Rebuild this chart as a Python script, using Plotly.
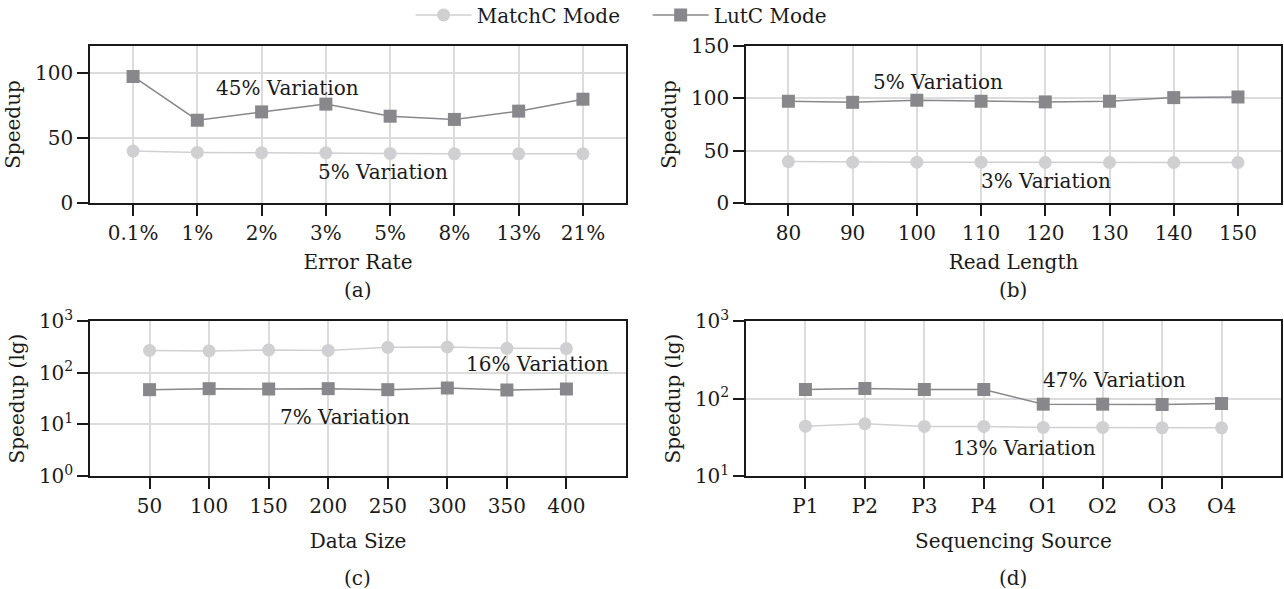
import plotly.graph_objects as go

# ---------------- data ----------------
error_rates = ["0.1%", "1%", "2%", "3%", "5%", "8%", "13%", "21%"]
a_matchc = [40, 39, 38.7, 38.7, 38.2, 37.9, 37.9, 37.9]
a_lutc = [97.5, 63.8, 70.2, 76.2, 66.9, 64.4, 70.8, 80]

read_lengths = [80, 90, 100, 110, 120, 130, 140, 150]
b_matchc = [39.6, 39, 39, 39, 38.7, 38.7, 38.7, 38.7]
b_lutc = [97.2, 96.2, 98.2, 97.2, 96.6, 97.2, 100.7, 101.3]

data_sizes = [50, 100, 150, 200, 250, 300, 350, 400]
c_matchc = [270, 263, 275, 270, 309, 314, 296, 292]
c_lutc = [46.9, 49, 48.3, 49, 46.9, 50.5, 46.2, 48.3]

sources = ["P1", "P2", "P3", "P4", "O1", "O2", "O3", "O4"]
d_matchc = [44, 47.2, 43.6, 43.6, 42.3, 42.3, 41.9, 41.9]
d_lutc = [130.6, 134.5, 130.6, 130.6, 84.5, 84.5, 83.7, 86.2]

log_ticks = [1, 10, 100, 1000]
log_ticktext = ["10<sup>0</sup>", "10<sup>1</sup>", "10<sup>2</sup>", "10<sup>3</sup>"]

# ---------------- style ----------------
W, H = 1284, 589
FONT = "DejaVu Serif"
TXT = "#1a1a1a"
LIGHT = "#d0d0d2"
DARK = "#88888c"
GRID = "#dcdcdc"
FS = 20


def px_x(p):
    return p / W


def px_y(p):
    return 1 - p / H


fig = go.Figure()

panels = [
    ("x", "y", error_rates, a_matchc, a_lutc),
    ("x2", "y2", read_lengths, b_matchc, b_lutc),
    ("x3", "y3", data_sizes, c_matchc, c_lutc),
    ("x4", "y4", sources, d_matchc, d_lutc),
]
for i, (xa, ya, xs, m, l) in enumerate(panels):
    fig.add_trace(go.Scatter(
        x=xs, y=m, xaxis=xa, yaxis=ya, mode="lines+markers", name="MatchC Mode",
        line=dict(color=LIGHT, width=1.5),
        marker=dict(symbol="circle", size=13, color=LIGHT),
        showlegend=(i == 0), legendgroup="m"))
    fig.add_trace(go.Scatter(
        x=xs, y=l, xaxis=xa, yaxis=ya, mode="lines+markers", name="LutC Mode",
        line=dict(color=DARK, width=1.5),
        marker=dict(symbol="square", size=13, color=DARK),
        showlegend=(i == 0), legendgroup="l"))

left_dom = [px_x(90), px_x(626)]
right_dom = [px_x(746), px_x(1281)]
top_dom = [px_y(203), px_y(46)]
bot_dom = [px_y(476), px_y(321)]

axis_common = dict(
    showline=True, linecolor=TXT, linewidth=1.5, mirror=True,
    ticks="outside", ticklen=11, tickwidth=1.5, tickcolor=TXT,
    showgrid=True, gridcolor=GRID, gridwidth=1.5, zeroline=False,
    automargin=False,
    tickfont=dict(family=FONT, size=FS, color=TXT),
    title_font=dict(family=FONT, size=FS, color=TXT),
)

fig.update_layout(
    width=W, height=H,
    margin=dict(l=0, r=0, t=0, b=0, autoexpand=False),
    paper_bgcolor="white", plot_bgcolor="white",
    font=dict(family=FONT, size=FS, color=TXT),
    showlegend=True,
    legend=dict(orientation="h", xref="container", yref="container",
                x=0.5044, xanchor="center",
                y=px_y(15), yanchor="middle",
                font=dict(family=FONT, size=FS, color=TXT),
                itemwidth=56,
                entrywidth=166, entrywidthmode="pixels",
                bgcolor="rgba(0,0,0,0)"),
    xaxis=dict(domain=left_dom, anchor="y", type="category",
               range=[-0.67, 7.67], title=dict(text="Error Rate", standoff=11),
               **axis_common),
    yaxis=dict(domain=top_dom, anchor="x", range=[0, 121],
               tickvals=[0, 50, 100], title=dict(text="Speedup", standoff=9),
               **axis_common),
    xaxis2=dict(domain=right_dom, anchor="y2", range=[73.4, 156.7],
                tickvals=read_lengths, title=dict(text="Read Length", standoff=11),
                **axis_common),
    yaxis2=dict(domain=top_dom, anchor="x2", range=[0, 150],
                tickvals=[0, 50, 100, 150], title=dict(text="Speedup", standoff=9),
                **axis_common),
    xaxis3=dict(domain=left_dom, anchor="y3", range=[0, 450],
                tickvals=data_sizes, title=dict(text="Data Size", standoff=17),
                **axis_common),
    yaxis3=dict(domain=bot_dom, anchor="x3", type="log", range=[0, 3],
                tickvals=log_ticks, ticktext=log_ticktext,
                title=dict(text="Speedup (lg)", standoff=9),
                **axis_common),
    xaxis4=dict(domain=right_dom, anchor="y4", type="category",
                range=[-1, 8], title=dict(text="Sequencing Source", standoff=17),
                **axis_common),
    yaxis4=dict(domain=bot_dom, anchor="x4", type="log", range=[1, 3],
                tickvals=log_ticks[1:], ticktext=log_ticktext[1:],
                title=dict(text="Speedup (lg)", standoff=9),
                **axis_common),
)

ann_font = dict(family=FONT, size=FS, color=TXT)
notes = [
    ("x", "y", 2.4, 89, "45% Variation"),
    ("x", "y", 3.89, 23.8, "5% Variation"),
    ("x2", "y2", 103.3, 115.4, "5% Variation"),
    ("x2", "y2", 120.1, 21.2, "3% Variation"),
    ("x3", "y3", 375.4, 2.166, "16% Variation"),
    ("x3", "y3", 213.8, 1.141, "7% Variation"),
    ("x4", "y4", 5.2, 2.239, "47% Variation"),
    ("x4", "y4", 3.69, 1.361, "13% Variation"),
]
for xr, yr, x, y, t in notes:
    fig.add_annotation(x=x, y=y, xref=xr, yref=yr, text=t, showarrow=False,
                       font=ann_font, xanchor="center", yanchor="middle")

labels = [(358, px_y(290), "middle", "(a)"), (1013, px_y(290), "middle", "(b)"),
          (358, px_y(578), "middle", "(c)"), (1013, px_y(578), "middle", "(d)")]
for x, y, ya, t in labels:
    fig.add_annotation(x=px_x(x), y=y, xref="paper", yref="paper", text=t,
                       showarrow=False, font=ann_font, xanchor="center", yanchor=ya)

fig.write_html("out.html")
